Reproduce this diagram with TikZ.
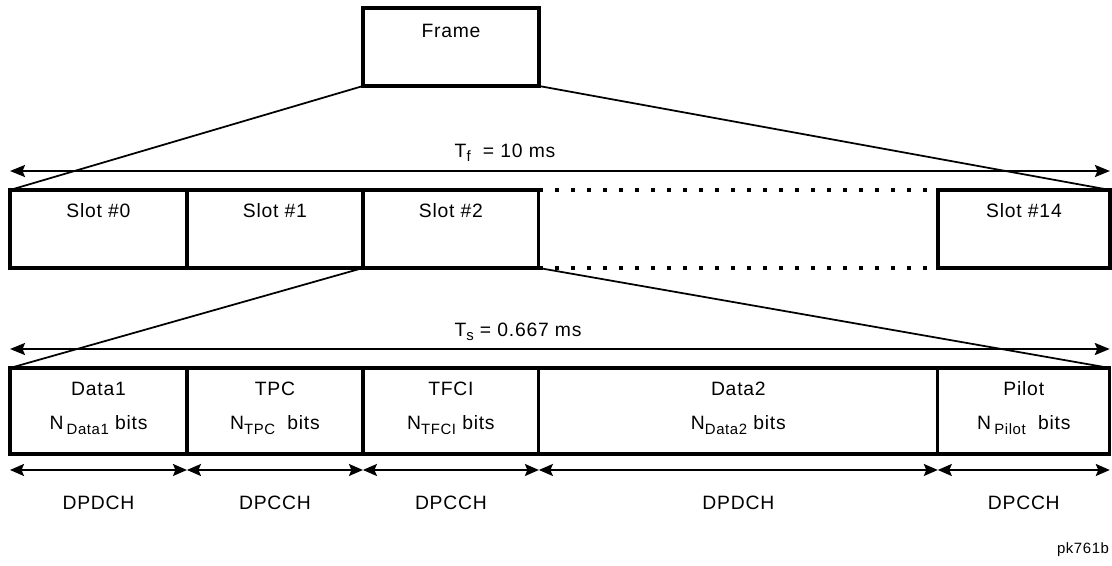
\documentclass[tikz,border=0pt]{standalone}
\usepackage{fontspec}
\setmainfont[LetterSpace=4]{Liberation Sans}
\usepackage{tikz}
\usetikzlibrary{arrows.meta,positioning}
\newcommand{\lowtxt}[1]{\raisebox{-0.45ex}{\fontsize{8.5}{9}\selectfont #1}}

\begin{document}
\begin{tikzpicture}[
  x=0.02cm, y=-0.02cm,
  font=\fontsize{11}{13}\selectfont,
  every node/.style={align=center},
  box/.style={draw, line width=1.8pt, inner sep=0pt, outer sep=0pt, anchor=north west},
  frm/.style={box, minimum width=3.52cm, text height=0.6cm, text depth=0.96cm},
  slot/.style={box, text height=0.56cm, text depth=1.0cm},
  field/.style={box, minimum height=1.72cm},
  lbl/.style={inner sep=0pt, anchor=base},
  zoomline/.style={line width=1pt},
  dots/.style={line width=1.8pt, dash pattern=on 0.08cm off 0.24cm},
  dim/.style={{Stealth[length=0.3cm,width=0.24cm,inset=0.05cm]}-{Stealth[length=0.3cm,width=0.24cm,inset=0.05cm]}, line width=1.3pt},
  seg/.style={{Stealth[length=0.28cm,width=0.24cm,inset=0.05cm]}-{Stealth[length=0.28cm,width=0.24cm,inset=0.05cm]}, line width=1.1pt}
]
\useasboundingbox (0,0) rectangle (1112,565);

\node[frm] (frame) at (363,8) {Frame};

\node[slot, minimum width=3.54cm] (s0) at (10,190) {Slot \#0};
\node[slot, minimum width=3.52cm, right=0pt of s0] (s1) {Slot \#1};
\node[slot, minimum width=3.52cm, right=0pt of s1] (s2) {Slot \#2};
\node[slot, minimum width=3.44cm] (s14) at (938,190) {Slot \#14};

\node[field, minimum width=3.54cm] (f1) at (10,368) {};
\node[field, minimum width=3.52cm, right=0pt of f1] (f2) {};
\node[field, minimum width=3.52cm, right=0pt of f2] (f3) {};
\node[field, minimum width=7.98cm, right=0pt of f3] (f4) {};
\node[field, minimum width=3.44cm, right=0pt of f4] (f5) {};

\node[lbl] (f1a) at ([yshift=-0.54cm]f1.north) {Data1};
\node[lbl] (f1b) at ([yshift=-1.24cm]f1.north) {N\,\lowtxt{Data1} bits};
\node[lbl] (f2a) at ([yshift=-0.54cm]f2.north) {TPC};
\node[lbl] (f2b) at ([yshift=-1.24cm]f2.north) {N\lowtxt{TPC}\ \ bits};
\node[lbl] (f3a) at ([yshift=-0.54cm]f3.north) {TFCI};
\node[lbl] (f3b) at ([yshift=-1.24cm]f3.north) {N\lowtxt{TFCI}\ bits};
\node[lbl] (f4a) at ([yshift=-0.54cm]f4.north) {Data2};
\node[lbl] (f4b) at ([yshift=-1.24cm]f4.north) {N\lowtxt{Data2} bits};
\node[lbl] (f5a) at ([yshift=-0.54cm]f5.north) {Pilot};
\node[lbl] (f5b) at ([yshift=-1.24cm]f5.north) {N\,\lowtxt{Pilot}\ \ bits};

\draw[zoomline] (frame.south west) -- (s0.north west);
\draw[zoomline] (frame.south east) -- (s14.north east);
\draw[zoomline] (s2.south west) -- (f1.north west);
\draw[zoomline] (s2.south east) -- (f5.north east);

\draw[dots] (s2.north east) -- (s14.north west);
\draw[dots] (s2.south east) -- (s14.south west);

\draw[dim] ([yshift=0.38cm]s0.north west) -- ([yshift=0.38cm]s14.north east);
\node[lbl] (tf) at (505,157) {T\lowtxt{f}\ \ = 10 ms};
\draw[dim] ([yshift=0.38cm]f1.north west) -- ([yshift=0.38cm]f5.north east);
\node[lbl] (ts) at (518,336) {T\lowtxt{s} = 0.667 ms};

\foreach \f/\ch in {f1/DPDCH, f2/DPCCH, f3/DPCCH, f4/DPDCH, f5/DPCCH}{
  \draw[seg] ([yshift=-0.32cm]\f.south west) -- ([yshift=-0.32cm]\f.south east);
  \node[lbl] (\f ch) at ([yshift=-1.12cm]\f.south) {\ch};
}

\node[lbl, font=\fontsize{8.5}{10}\selectfont] (tag) at (1083,553) {pk761b};
\end{tikzpicture}
\end{document}
